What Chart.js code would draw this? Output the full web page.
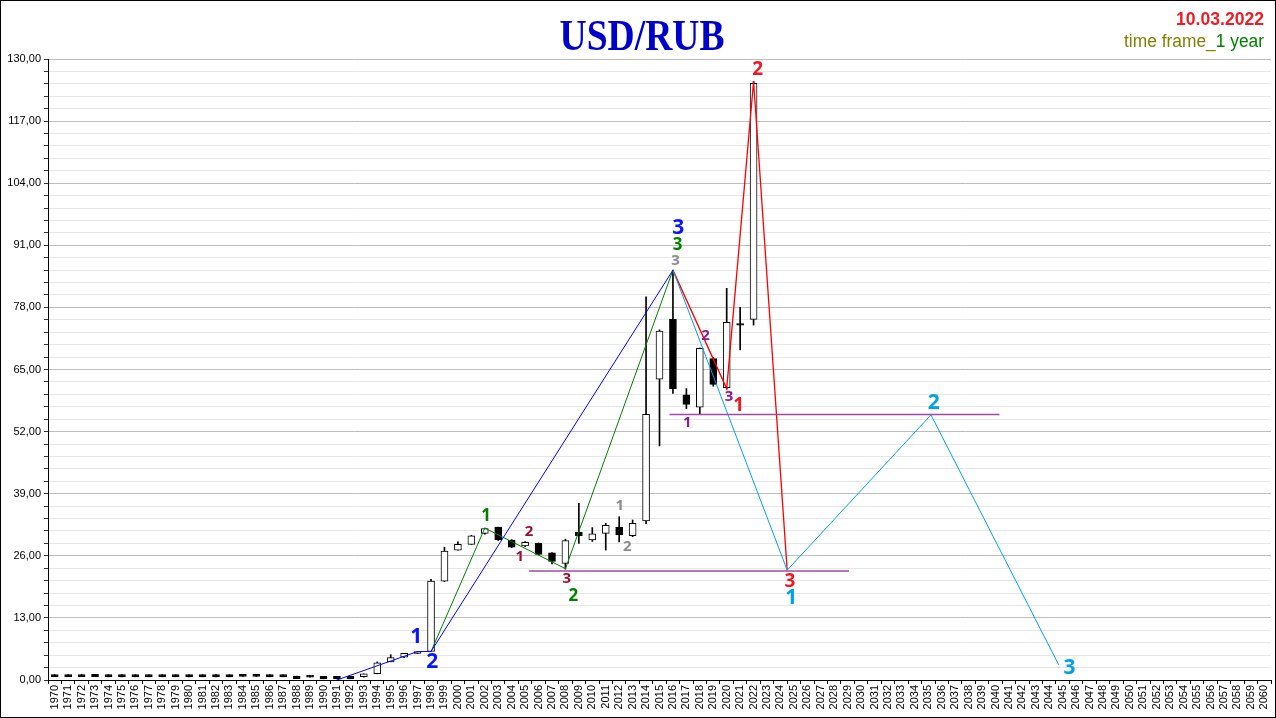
<!DOCTYPE html>
<html>
<head>
<meta charset="utf-8">
<script src="https://cdn.jsdelivr.net/npm/chart.js@4.4.0/dist/chart.umd.min.js"></script>
<style>
html, body { margin: 0; padding: 0; background: #fff; }
canvas { display: block; }
</style>
</head>
<body>
<canvas id="myChart" width="1276" height="718"></canvas>
<script>
// yearly candles USD/RUB
const years = [1970, 1971, 1972, 1973, 1974, 1975, 1976, 1977, 1978, 1979,
    1980, 1981, 1982, 1983, 1984, 1985, 1986, 1987, 1988, 1989,
    1990, 1991, 1992, 1993, 1994, 1995, 1996, 1997, 1998, 1999,
    2000, 2001, 2002, 2003, 2004, 2005, 2006, 2007, 2008, 2009,
    2010, 2011, 2012, 2013, 2014, 2015, 2016, 2017, 2018, 2019,
    2020, 2021, 2022];
const opens = [1.15, 1.15, 1.15, 1.17, 1.12, 1.12, 1.12, 1.12, 1.12, 1.12,
    1.12, 1.12, 1.12, 1.12, 1.2, 1.2, 1.12, 1.12, 0.8, 1.0,
    0.75, 0.75, 0.75, 0.7, 1.3, 3.8, 4.8, 5.55, 5.96, 20.7,
    27.2, 28.4, 30.7, 32.0, 29.3, 28.05, 28.6, 26.6, 24.4, 30.9,
    29.3, 30.7, 32.0, 30.2, 33.3, 63.0, 75.5, 59.7, 57.1, 67.3,
    61.2, 74.6, 75.5];
const closes = [0.7, 0.7, 0.7, 0.72, 0.67, 0.67, 0.67, 0.67, 0.67, 0.67,
    0.67, 0.67, 0.67, 0.67, 0.75, 0.75, 0.67, 0.67, 0.3, 0.6,
    0.25, 0.25, 0.25, 1.3, 3.6, 4.7, 5.6, 5.95, 20.7, 27.0,
    28.4, 30.2, 31.7, 29.3, 27.8, 28.8, 26.3, 24.8, 29.2, 30.2,
    30.6, 32.4, 30.35, 32.8, 55.6, 73.05, 61.0, 57.7, 69.45, 61.9,
    74.9, 74.3, 124.9];
const highs = [1.15, 1.15, 1.15, 1.17, 1.12, 1.12, 1.12, 1.12, 1.12, 1.12,
    1.12, 1.12, 1.12, 1.12, 1.2, 1.2, 1.12, 1.12, 0.8, 1.0,
    0.75, 0.75, 0.75, 1.3, 3.8, 5.3, 5.6, 5.96, 21.1, 27.8,
    28.9, 30.3, 31.8, 32.0, 29.4, 29.0, 28.7, 26.7, 29.5, 37.0,
    31.9, 32.8, 34.2, 33.5, 80.2, 73.3, 85.8, 61.0, 69.5, 67.5,
    82.0, 78.0, 125.3];
const lows = [0.7, 0.7, 0.7, 0.72, 0.67, 0.67, 0.67, 0.67, 0.67, 0.67,
    0.67, 0.67, 0.67, 0.67, 0.75, 0.75, 0.67, 0.67, 0.3, 0.6,
    0.25, 0.25, 0.25, 0.6, 1.3, 3.8, 4.7, 5.5, 5.96, 20.6,
    27.2, 28.4, 30.5, 29.2, 27.7, 27.9, 26.2, 24.3, 23.2, 28.6,
    29.0, 27.2, 28.9, 30.0, 32.7, 49.0, 60.0, 56.8, 55.6, 61.5,
    60.9, 69.1, 74.3];

// wave lines
const blueWaveYears = [1991, 1997, 1998, 2016];
const blueWaveValues = [0, 5.96, 5.96, 85.8];
const greenWaveYears = [1998, 2002, 2008, 2016];
const greenWaveValues = [5.96, 31.8, 23.3, 85.8];
const redWaveYears = [2016, 2020, 2022, 2024.5];
const redWaveValues = [85.8, 61.0, 125.3, 23.0];
const cyanWaveYears = [2016, 2024.5, 2035.2, 2044.7];
const cyanWaveValues = [85.8, 23.0, 55.5, 3.2];
const upperLevelYears = [2015.75, 2040.3];
const upperLevelValues = [55.6, 55.6];
const lowerLevelYears = [2005.3, 2029.1];
const lowerLevelValues = [22.8, 22.8];

// wave counts 1,2,3 for each degree
const waveNumbers = ['1', '2', '3'];
const blueLabelYears = [1996.9, 1998.1, 2016.4];
const blueLabelValues = [9.0, 3.8, 94.6];
const greenLabelYears = [2002.1, 2008.6, 2016.35];
const greenLabelValues = [34.2, 17.6, 91.1];
const maroonLabelYears = [2004.6, 2005.3, 2008.1];
const maroonLabelValues = [25.8, 31.0, 21.1];
const grayLabelYears = [2012.05, 2012.6, 2016.2];
const grayLabelValues = [36.4, 27.8, 87.8];
const purpleLabelYears = [2017.07, 2018.43, 2020.17];
const purpleLabelValues = [53.9, 72.0, 59.3];
const redLabelYears = [2020.9, 2022.3, 2024.7];
const redLabelValues = [57.4, 127.7, 20.6];
const cyanLabelYears = [2024.8, 2035.4, 2045.5];
const cyanLabelValues = [17.1, 57.9, 2.5];

const firstYear = 1970;
const lastYear = 2060;

function toPoints(xs, ys) {
    return xs.map((x, i) => ({ x: x, y: ys[i] }));
}

function lineSet(xs, ys, color, width) {
    return {
        type: 'line',
        data: toPoints(xs, ys),
        borderColor: color,
        borderWidth: width,
        pointRadius: 0,
        tension: 0,
        fill: false,
        order: 0
    };
}

const labelGroups = [
    { xs: blueLabelYears, ys: blueLabelValues, color: '#0a14ff', size: 21 },
    { xs: greenLabelYears, ys: greenLabelValues, color: '#008000', size: 17 },
    { xs: maroonLabelYears, ys: maroonLabelValues, color: '#9b1030', size: 15 },
    { xs: grayLabelYears, ys: grayLabelValues, color: '#8c8c8c', size: 15 },
    { xs: purpleLabelYears, ys: purpleLabelValues, color: '#8b1a8b', size: 15 },
    { xs: redLabelYears, ys: redLabelValues, color: '#f01820', size: 19 },
    { xs: cyanLabelYears, ys: cyanLabelValues, color: '#00a2e8', size: 21 }
];

function drawFitted(ctx, parts, x, y, font, width, align) {
    ctx.save();
    ctx.font = font;
    let total = 0;
    parts.forEach(p => total += ctx.measureText(p.text).width);
    const k = width / total;
    const startX = align === 'right' ? x - width : (align === 'center' ? x - width / 2 : x);
    ctx.translate(startX, y);
    ctx.scale(k, 1);
    ctx.textAlign = 'left';
    ctx.textBaseline = 'alphabetic';
    let cx = 0;
    parts.forEach(p => {
        ctx.fillStyle = p.color;
        ctx.fillText(p.text, cx, 0);
        cx += ctx.measureText(p.text).width;
    });
    ctx.restore();
}

const decorPlugin = {
    id: 'decor',
    beforeDraw(chart) {
        const ctx = chart.ctx;
        ctx.save();
        ctx.fillStyle = '#fff';
        ctx.fillRect(0, 0, chart.width, chart.height);
        ctx.restore();
    },
    afterDatasetsDraw(chart) {
        const ctx = chart.ctx;
        const xs = chart.scales.x, ys = chart.scales.y;
        ctx.save();
        ctx.textAlign = 'center';
        ctx.textBaseline = 'middle';
        labelGroups.forEach(g => {
            ctx.font = 'bold ' + g.size + 'px "Noto Sans", "DejaVu Sans", sans-serif';
            ctx.fillStyle = g.color;
            g.xs.forEach((yr, i) => {
                ctx.fillText(waveNumbers[i], xs.getPixelForValue(yr), ys.getPixelForValue(g.ys[i]));
            });
        });
        ctx.restore();
    },
    afterDraw(chart) {
        const ctx = chart.ctx;
        drawFitted(ctx, [{ text: 'USD/RUB', color: '#0000cc' }], 642, 50,
            'bold 45px "Liberation Serif", serif', 165, 'center');
        drawFitted(ctx, [{ text: '10.03.2022', color: '#ee1c24' }], 1264, 25,
            'bold 19px "Liberation Sans", sans-serif', 88, 'right');
        drawFitted(ctx, [{ text: 'time frame_', color: '#808000' }, { text: '1 year', color: '#008000' }],
            1264, 47, '18px "Liberation Sans", sans-serif', 140, 'right');
        ctx.save();
        ctx.strokeStyle = '#000';
        ctx.lineWidth = 1;
        ctx.strokeRect(0.5, 0.5, chart.width - 1, chart.height - 1);
        ctx.restore();
    }
};

const ctx = document.getElementById('myChart');

new Chart(ctx, {
    type: 'bar',
    data: {
        datasets: [
            lineSet(upperLevelYears, upperLevelValues, '#a349a4', 1.5),
            lineSet(lowerLevelYears, lowerLevelValues, '#a349a4', 1.5),
            lineSet(blueWaveYears, blueWaveValues, '#0000ff', 1),
            lineSet(greenWaveYears, greenWaveValues, '#008000', 1),
            lineSet(cyanWaveYears, cyanWaveValues, '#00a2e8', 1),
            lineSet(redWaveYears, redWaveValues, '#ff0000', 1.3),
            {
                data: years.map((y, i) => ({ x: y, y: [opens[i], closes[i]] })),
                backgroundColor: years.map((y, i) => closes[i] >= opens[i] ? '#ffffff' : '#000000'),
                borderColor: '#000000',
                borderWidth: 1,
                borderSkipped: false,
                barThickness: 7,
                grouped: false,
                order: 1
            },
            {
                data: years.map((y, i) => ({ x: y, y: [lows[i], highs[i]] })),
                backgroundColor: '#000000',
                borderWidth: 0,
                barThickness: 1,
                grouped: false,
                order: 2
            }
        ]
    },
    options: {
        responsive: false,
        animation: false,
        devicePixelRatio: 1,
        events: [],
        layout: { padding: { top: 59, right: 5, left: 0, bottom: 0 } },
        plugins: {
            legend: { display: false },
            tooltip: { enabled: false },
            title: { display: false }
        },
        scales: {
            x: {
                type: 'linear',
                min: firstYear - 0.5,
                max: lastYear + 0.5,
                offset: false,
                afterBuildTicks(scale) {
                    const t = [];
                    for (let v = firstYear - 0.5; v <= lastYear + 0.5; v++) t.push({ value: v });
                    scale.ticks = t;
                },
                afterFit(scale) {
                    scale.height = 38;
                    scale.paddingLeft = 0;
                    scale.paddingRight = 0;
                },
                grid: {
                    offset: false,
                    drawOnChartArea: false,
                    drawTicks: true,
                    tickLength: 4,
                    tickColor: '#000'
                },
                border: { display: true, color: '#000', width: 1 },
                ticks: {
                    autoSkip: false,
                    minRotation: 90,
                    maxRotation: 90,
                    padding: 1,
                    labelOffset: 6.72,
                    color: '#000',
                    font: { family: '"Liberation Sans", Arial, sans-serif', size: 11 },
                    callback: v => v < lastYear ? String(v + 0.5) : ''
                }
            },
            y: {
                min: 0,
                max: 130,
                afterFit(scale) {
                    scale.width = 48;
                    scale.paddingTop = 0;
                    scale.paddingBottom = 0;
                },
                grid: {
                    color: c => Math.round(c.tick.value / 2.6) % 5 === 0 ? '#bdbdbd' : '#e6e6e6',
                    tickColor: '#333',
                    tickLength: 4,
                    lineWidth: 1
                },
                border: { display: true, color: '#000', width: 1 },
                ticks: {
                    stepSize: 2.6,
                    autoSkip: false,
                    padding: 3,
                    color: '#000',
                    font: { family: '"Liberation Sans", Arial, sans-serif', size: 11 },
                    callback: v => Math.round(v / 2.6) % 5 === 0 ? v.toFixed(2).replace('.', ',') : ''
                }
            }
        }
    },
    plugins: [decorPlugin]
});
</script>
</body>
</html>
